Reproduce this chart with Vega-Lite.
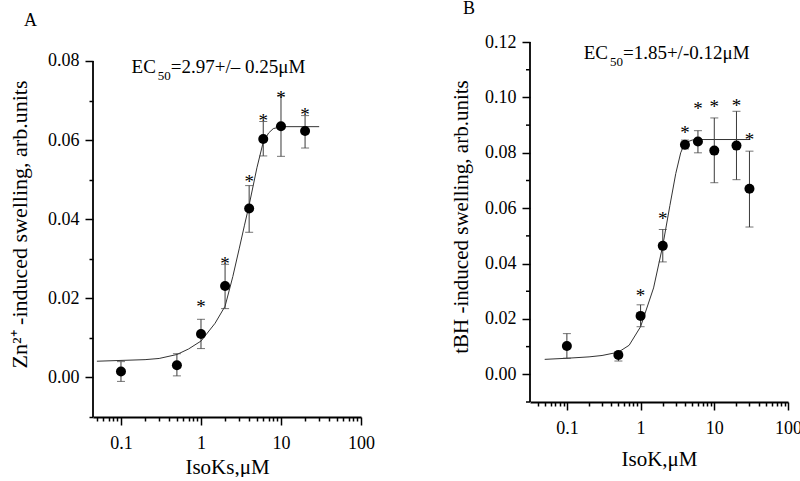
{
  "$schema": "https://vega.github.io/schema/vega-lite/v6.json",
  "background": "white",
  "padding": {"left": 8, "top": 0, "right": 0, "bottom": 0},
  "config": {
    "font": "Liberation Serif",
    "view": {"stroke": null},
    "axis": {"domainColor": "black", "domainWidth": 1.8, "tickColor": "black", "tickWidth": 1.5, "labelColor": "black", "titleColor": "black", "labelFont": "Liberation Serif", "titleFont": "Liberation Serif", "labelFontSize": 18, "titleFontSize": 21, "titleFontWeight": "normal", "grid": false, "labelPadding": 6, "labelOverlap": false, "labelFlush": false},
    "title": {"font": "Liberation Serif", "fontSize": 18, "fontWeight": "normal", "anchor": "start", "frame": "group", "color": "black"},
    "text": {"font": "Liberation Serif", "color": "black"}
  },
  "datasets": {
    "ptsA": [
      {"x": 0.1, "y": 0.0015, "lo": -0.001, "hi": 0.0040},
      {"x": 0.5, "y": 0.0031, "lo": 0.0004, "hi": 0.0060},
      {"x": 1, "y": 0.0110, "lo": 0.0073, "hi": 0.0147, "star": 0.0200},
      {"x": 2, "y": 0.0231, "lo": 0.0174, "hi": 0.0286, "star": 0.0310},
      {"x": 4, "y": 0.0427, "lo": 0.0367, "hi": 0.0485, "star": 0.0516},
      {"x": 6, "y": 0.0603, "lo": 0.0560, "hi": 0.0647, "star": 0.0671},
      {"x": 10, "y": 0.0635, "lo": 0.0559, "hi": 0.0712, "star": 0.0730},
      {"x": 20, "y": 0.0623, "lo": 0.0580, "hi": 0.0662, "star": 0.0686}
    ],
    "curveA": [
      {"x": 0.05, "y": 0.0041}, {"x": 0.1, "y": 0.0043}, {"x": 0.2, "y": 0.0045}, {"x": 0.3, "y": 0.0048},
      {"x": 0.5, "y": 0.0058}, {"x": 0.7, "y": 0.0072}, {"x": 1, "y": 0.0092}, {"x": 1.5, "y": 0.0137},
      {"x": 2, "y": 0.0180}, {"x": 2.5, "y": 0.0255}, {"x": 3, "y": 0.0325}, {"x": 3.5, "y": 0.0385},
      {"x": 4, "y": 0.0436}, {"x": 5, "y": 0.0530}, {"x": 6, "y": 0.0595}, {"x": 7, "y": 0.0618},
      {"x": 8, "y": 0.0629}, {"x": 10, "y": 0.0634}, {"x": 20, "y": 0.0634}, {"x": 30, "y": 0.0634}
    ],
    "ptsB": [
      {"x": 0.1, "y": 0.0102, "lo": 0.0058, "hi": 0.0147},
      {"x": 0.5, "y": 0.0070, "lo": 0.0048, "hi": 0.0082},
      {"x": 1, "y": 0.0211, "lo": 0.0172, "hi": 0.0251, "star": 0.0316},
      {"x": 2, "y": 0.0464, "lo": 0.0406, "hi": 0.0523, "star": 0.0592},
      {"x": 4, "y": 0.0829, "lo": 0.0814, "hi": 0.0846, "star": 0.0905},
      {"x": 6, "y": 0.0841, "lo": 0.0800, "hi": 0.0880, "star": 0.0991},
      {"x": 10, "y": 0.0808, "lo": 0.0692, "hi": 0.0926, "star": 0.0997},
      {"x": 20, "y": 0.0826, "lo": 0.0703, "hi": 0.0950, "star": 0.1001},
      {"x": 30, "y": 0.0670, "lo": 0.0532, "hi": 0.0806, "star": 0.0880}
    ],
    "curveB": [
      {"x": 0.05, "y": 0.0054}, {"x": 0.1, "y": 0.0058}, {"x": 0.2, "y": 0.0063}, {"x": 0.3, "y": 0.0068},
      {"x": 0.5, "y": 0.0080}, {"x": 0.7, "y": 0.0105}, {"x": 1, "y": 0.0172}, {"x": 1.5, "y": 0.0312},
      {"x": 2, "y": 0.0465}, {"x": 2.5, "y": 0.0610}, {"x": 3, "y": 0.0725}, {"x": 3.5, "y": 0.0800},
      {"x": 4, "y": 0.0836}, {"x": 5, "y": 0.0846}, {"x": 6, "y": 0.0848}, {"x": 10, "y": 0.0848},
      {"x": 20, "y": 0.0848}, {"x": 30, "y": 0.0848}
    ],
    "minorB": [{"v": -0.01}, {"v": 0.01}, {"v": 0.03}, {"v": 0.05}, {"v": 0.07}, {"v": 0.09}, {"v": 0.11}],
    "annA": [{"x": 0.42, "y": 0.077}],
    "annB": [{"x": 0.576, "y": 0.1139}]
  },
  "spacing": 75,
  "hconcat": [
    {
      "width": 268,
      "height": 386,
      "title": {"text": "A", "offset": 1, "dx": -69},
      "layer": [
        {
          "data": {"name": "curveA"},
          "mark": {"type": "line", "color": "#333333", "strokeWidth": 1},
          "encoding": {
            "x": {"field": "x", "type": "quantitative", "scale": {"type": "log", "domain": [0.0447, 100], "nice": false},
              "axis": {"title": "IsoKs,μM", "titlePadding": 4, "labelPadding": 9, "labelOverlap": false,
                "values": [0.05,0.06,0.07,0.08,0.09,0.1,0.2,0.3,0.4,0.5,0.6,0.7,0.8,0.9,1,2,3,4,5,6,7,8,9,10,20,30,40,50,60,70,80,90,100],
                "labelExpr": "abs(log(datum.value)/LN10 - round(log(datum.value)/LN10)) < 1e-6 ? format(datum.value, '~g') : ''",
                "tickSize": {"condition": {"test": "abs(log(datum.value)/LN10 - round(log(datum.value)/LN10)) < 1e-6", "value": 8}, "value": 4}}},
            "y": {"field": "y", "type": "quantitative", "scale": {"domain": [-0.01, 0.087584], "nice": false, "zero": false},
              "axis": {"title": "Zn²⁺ -induced swelling, arb.units", "titlePadding": 16, "titleFontSize": 22, "domain": false, "labelOverlap": false, "labelBound": false,
                "values": [-0.01,0,0.01,0.02,0.03,0.04,0.05,0.06,0.07,0.08],
                "labelExpr": "abs(datum.value*50 - round(datum.value*50)) < 1e-6 ? format(datum.value, '.2f') : ''",
                "tickSize": {"condition": {"test": "abs(datum.value*50 - round(datum.value*50)) < 1e-6", "value": 8}, "value": 4}}}
          }
        },
        {
          "data": {"values": [{}]},
          "mark": {"type": "rule", "color": "black", "strokeWidth": 1.8},
          "encoding": {
            "x": {"datum": 0.0447, "type": "quantitative"},
            "y": {"datum": -0.01, "type": "quantitative"},
            "y2": {"datum": 0.08}
          }
        },
        {
          "data": {"name": "ptsA"},
          "mark": {"type": "errorbar", "color": "#3a3a3a", "thickness": 1, "ticks": {"size": 8, "thickness": 1, "color": "#3a3a3a"}},
          "encoding": {
            "x": {"field": "x", "type": "quantitative"},
            "y": {"field": "lo", "type": "quantitative", "title": "Zn²⁺ -induced swelling, arb.units"},
            "y2": {"field": "hi"}
          }
        },
        {
          "data": {"name": "ptsA"},
          "mark": {"type": "point", "filled": true, "color": "black", "opacity": 1, "size": 100},
          "encoding": {
            "x": {"field": "x", "type": "quantitative"},
            "y": {"field": "y", "type": "quantitative", "title": "Zn²⁺ -induced swelling, arb.units"}
          }
        },
        {
          "data": {"name": "ptsA"},
          "transform": [{"filter": "isValid(datum.star)"}],
          "mark": {"type": "text", "text": "*", "fontSize": 19, "dy": 9, "color": "black"},
          "encoding": {
            "x": {"field": "x", "type": "quantitative"},
            "y": {"field": "star", "type": "quantitative", "title": "Zn²⁺ -induced swelling, arb.units"}
          }
        },
        {
          "data": {"name": "annA"},
          "mark": {"type": "text", "text": "EC", "fontSize": 19, "align": "right", "baseline": "alphabetic", "dx": -15, "color": "black"},
          "encoding": {"x": {"field": "x", "type": "quantitative"}, "y": {"field": "y", "type": "quantitative"}}
        },
        {
          "data": {"name": "annA"},
          "mark": {"type": "text", "text": "50", "fontSize": 13, "align": "right", "baseline": "alphabetic", "dx": 0, "dy": 7, "color": "black"},
          "encoding": {"x": {"field": "x", "type": "quantitative"}, "y": {"field": "y", "type": "quantitative"}}
        },
        {
          "data": {"name": "annA"},
          "mark": {"type": "text", "text": "=2.97+/– 0.25μM", "fontSize": 19, "align": "left", "baseline": "alphabetic", "color": "black"},
          "encoding": {"x": {"field": "x", "type": "quantitative"}, "y": {"field": "y", "type": "quantitative"}}
        }
      ]
    },
    {
      "width": 258,
      "height": 371,
      "title": {"text": "B", "offset": 13, "dx": -67},
      "layer": [
        {
          "data": {"name": "curveB"},
          "mark": {"type": "line", "color": "#333333", "strokeWidth": 1},
          "encoding": {
            "x": {"field": "x", "type": "quantitative", "scale": {"type": "log", "domain": [0.0316, 100], "nice": false},
              "axis": {"title": "IsoK,μM", "titlePadding": 11, "labelPadding": 9, "labelOverlap": false,
                "values": [0.04,0.05,0.06,0.07,0.08,0.09,0.1,0.2,0.3,0.4,0.5,0.6,0.7,0.8,0.9,1,2,3,4,5,6,7,8,9,10,20,30,40,50,60,70,80,90,100],
                "labelExpr": "abs(log(datum.value)/LN10 - round(log(datum.value)/LN10)) < 1e-6 ? format(datum.value, '~g') : ''",
                "tickSize": {"condition": {"test": "abs(log(datum.value)/LN10 - round(log(datum.value)/LN10)) < 1e-6", "value": 8}, "value": 4}}},
            "y": {"field": "y", "type": "quantitative", "scale": {"domain": [-0.01, 0.124], "nice": false, "zero": false},
              "axis": {"title": "tBH -induced swelling, arb.units", "titlePadding": 13, "domain": false, "labelOverlap": false, "labelBound": false,
                "tickSize": 8, "format": ".2f",
                "values": [0, 0.02, 0.04, 0.06, 0.08, 0.1, 0.12]}}
          }
        },
        {
          "data": {"values": [{}]},
          "mark": {"type": "rule", "color": "black", "strokeWidth": 1.8},
          "encoding": {
            "x": {"datum": 0.0316, "type": "quantitative"},
            "y": {"datum": -0.01, "type": "quantitative"},
            "y2": {"datum": 0.12}
          }
        },
        {
          "data": {"name": "minorB"},
          "mark": {"type": "tick", "orient": "horizontal", "size": 4, "thickness": 1.5, "color": "black", "xOffset": -2, "opacity": 1},
          "encoding": {
            "x": {"datum": 0.0316, "type": "quantitative"},
            "y": {"field": "v", "type": "quantitative", "title": "tBH -induced swelling, arb.units"}
          }
        },
        {
          "data": {"name": "ptsB"},
          "mark": {"type": "errorbar", "color": "#3a3a3a", "thickness": 1, "ticks": {"size": 8, "thickness": 1, "color": "#3a3a3a"}},
          "encoding": {
            "x": {"field": "x", "type": "quantitative"},
            "y": {"field": "lo", "type": "quantitative", "title": "tBH -induced swelling, arb.units"},
            "y2": {"field": "hi"}
          }
        },
        {
          "data": {"name": "ptsB"},
          "mark": {"type": "point", "filled": true, "color": "black", "opacity": 1, "size": 100},
          "encoding": {
            "x": {"field": "x", "type": "quantitative"},
            "y": {"field": "y", "type": "quantitative", "title": "tBH -induced swelling, arb.units"}
          }
        },
        {
          "data": {"name": "ptsB"},
          "transform": [{"filter": "isValid(datum.star)"}],
          "mark": {"type": "text", "text": "*", "fontSize": 19, "dy": 9, "color": "black"},
          "encoding": {
            "x": {"field": "x", "type": "quantitative"},
            "y": {"field": "star", "type": "quantitative", "title": "tBH -induced swelling, arb.units"}
          }
        },
        {
          "data": {"name": "annB"},
          "mark": {"type": "text", "text": "EC", "fontSize": 19, "align": "right", "baseline": "alphabetic", "dx": -15, "color": "black"},
          "encoding": {"x": {"field": "x", "type": "quantitative"}, "y": {"field": "y", "type": "quantitative"}}
        },
        {
          "data": {"name": "annB"},
          "mark": {"type": "text", "text": "50", "fontSize": 13, "align": "right", "baseline": "alphabetic", "dx": 0, "dy": 7, "color": "black"},
          "encoding": {"x": {"field": "x", "type": "quantitative"}, "y": {"field": "y", "type": "quantitative"}}
        },
        {
          "data": {"name": "annB"},
          "mark": {"type": "text", "text": "=1.85+/-0.12μM", "fontSize": 19, "align": "left", "baseline": "alphabetic", "color": "black"},
          "encoding": {"x": {"field": "x", "type": "quantitative"}, "y": {"field": "y", "type": "quantitative"}}
        }
      ]
    }
  ]
}
